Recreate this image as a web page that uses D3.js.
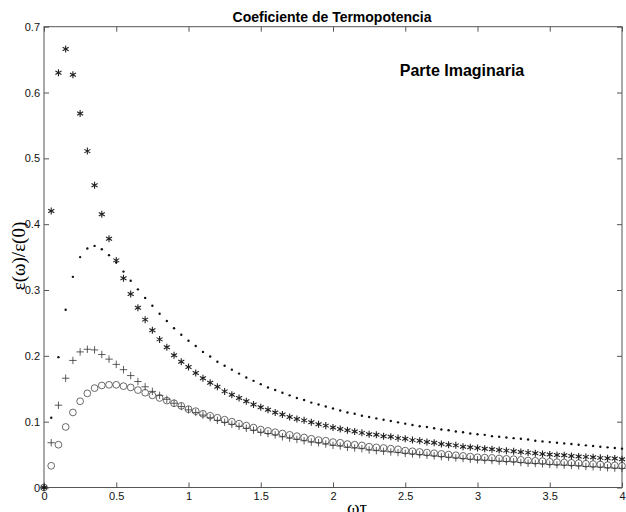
<!DOCTYPE html>
<html>
<head>
<meta charset="utf-8">
<script src="https://cdn.jsdelivr.net/npm/d3@7"></script>
<style>
  body { margin: 0; background: #fff; }
  svg { display: block; }
</style>
</head>
<body>
<svg width="626" height="512"></svg>
<script>
// omega*tau grid
var wt = [0, 0.05, 0.1, 0.15, 0.2, 0.25, 0.3, 0.35, 0.4, 0.45, 0.5, 0.55, 0.6, 0.65, 0.7, 0.75, 0.8, 0.85, 0.9, 0.95,
  1, 1.05, 1.1, 1.15, 1.2, 1.25, 1.3, 1.35, 1.4, 1.45, 1.5, 1.55, 1.6, 1.65, 1.7, 1.75, 1.8, 1.85, 1.9, 1.95,
  2, 2.05, 2.1, 2.15, 2.2, 2.25, 2.3, 2.35, 2.4, 2.45, 2.5, 2.55, 2.6, 2.65, 2.7, 2.75, 2.8, 2.85, 2.9, 2.95,
  3, 3.05, 3.1, 3.15, 3.2, 3.25, 3.3, 3.35, 3.4, 3.45, 3.5, 3.55, 3.6, 3.65, 3.7, 3.75, 3.8, 3.85, 3.9, 3.95, 4];

// serie "*"
var asteriscos = [0, 0.420, 0.630, 0.666, 0.627, 0.568, 0.511, 0.459, 0.415, 0.378, 0.345, 0.318, 0.294, 0.273, 0.255, 0.239, 0.225, 0.213, 0.201, 0.191,
  0.183, 0.174, 0.166, 0.159, 0.153, 0.146, 0.141, 0.136, 0.131, 0.126, 0.122, 0.118, 0.114, 0.111, 0.107, 0.104, 0.102, 0.099, 0.096, 0.094,
  0.091, 0.089, 0.087, 0.085, 0.083, 0.081, 0.080, 0.078, 0.077, 0.075, 0.074, 0.072, 0.071, 0.069, 0.068, 0.066, 0.065, 0.064, 0.062, 0.061,
  0.060, 0.059, 0.058, 0.057, 0.056, 0.055, 0.054, 0.053, 0.052, 0.051, 0.050, 0.0495, 0.049, 0.048, 0.047, 0.0465, 0.046, 0.045, 0.0445, 0.044, 0.043];

// serie "."
var puntos = [0, 0.106, 0.198, 0.270, 0.320, 0.350, 0.363, 0.367, 0.362, 0.353, 0.342, 0.328, 0.314, 0.301, 0.288, 0.276, 0.264, 0.253, 0.242, 0.232,
  0.223, 0.215, 0.206, 0.199, 0.191, 0.185, 0.179, 0.173, 0.167, 0.162, 0.157, 0.152, 0.148, 0.144, 0.140, 0.136, 0.133, 0.129, 0.126, 0.123,
  0.120, 0.117, 0.114, 0.112, 0.109, 0.107, 0.105, 0.103, 0.101, 0.099, 0.097, 0.095, 0.093, 0.092, 0.090, 0.088, 0.087, 0.085, 0.084, 0.082,
  0.081, 0.080, 0.078, 0.077, 0.076, 0.075, 0.074, 0.073, 0.071, 0.070, 0.069, 0.068, 0.067, 0.066, 0.065, 0.064, 0.063, 0.062, 0.061, 0.060, 0.059];

// serie "+"
var cruces = [0, 0.068, 0.125, 0.166, 0.193, 0.206, 0.210, 0.209, 0.202, 0.195, 0.187, 0.179, 0.170, 0.161, 0.153, 0.146, 0.140, 0.134, 0.128, 0.123,
  0.118, 0.114, 0.110, 0.106, 0.102, 0.099, 0.096, 0.093, 0.090, 0.087, 0.084, 0.082, 0.080, 0.077, 0.075, 0.073, 0.071, 0.069, 0.068, 0.066,
  0.064, 0.063, 0.061, 0.060, 0.059, 0.057, 0.056, 0.055, 0.054, 0.053, 0.052, 0.051, 0.050, 0.049, 0.048, 0.047, 0.046, 0.045, 0.044, 0.043,
  0.042, 0.0415, 0.041, 0.040, 0.0395, 0.039, 0.038, 0.037, 0.0365, 0.036, 0.035, 0.0345, 0.034, 0.0335, 0.033, 0.032, 0.0315, 0.031, 0.030, 0.0295, 0.029];

// serie "o"
var circulos = [0, 0.033, 0.065, 0.092, 0.114, 0.131, 0.143, 0.151, 0.155, 0.156, 0.156, 0.154, 0.152, 0.148, 0.144, 0.140, 0.136, 0.132, 0.128, 0.124,
  0.119, 0.116, 0.112, 0.109, 0.106, 0.103, 0.100, 0.097, 0.094, 0.091, 0.088, 0.086, 0.084, 0.082, 0.080, 0.078, 0.076, 0.074, 0.072, 0.071,
  0.069, 0.068, 0.066, 0.065, 0.064, 0.062, 0.061, 0.060, 0.059, 0.058, 0.056, 0.055, 0.054, 0.053, 0.052, 0.051, 0.050, 0.049, 0.048, 0.047,
  0.046, 0.0455, 0.045, 0.044, 0.0435, 0.043, 0.042, 0.041, 0.0405, 0.040, 0.039, 0.0385, 0.038, 0.0375, 0.037, 0.036, 0.0355, 0.035, 0.034, 0.0335, 0.033];

var xTicks = [0, 0.5, 1, 1.5, 2, 2.5, 3, 3.5, 4];
var yTicks = [0, 0.1, 0.2, 0.3, 0.4, 0.5, 0.6, 0.7];

var svg = d3.select("svg"),
    margenIzq = 44, margenDer = 622, margenSup = 26.7, margenInf = 487.5;

var x = d3.scaleLinear().domain([0, 4]).range([margenIzq, margenDer]);
var y = d3.scaleLinear().domain([0, 0.7]).range([margenInf, margenSup]);

var axisColor = "#555";

// marco
svg.append("rect")
  .attr("x", margenIzq).attr("y", margenSup)
  .attr("width", margenDer - margenIzq).attr("height", margenInf - margenSup)
  .attr("fill", "none").attr("stroke", axisColor).attr("stroke-width", 1);

function fmt(d) { return d3.format("~g")(d); }

var gx = svg.append("g").attr("transform", "translate(0," + margenInf + ")")
  .call(d3.axisBottom(x).tickValues(xTicks).tickSize(-5).tickPadding(5).tickFormat(fmt));
var gxTop = svg.append("g").attr("transform", "translate(0," + margenSup + ")")
  .call(d3.axisTop(x).tickValues(xTicks).tickSize(-5).tickFormat(""));
var gy = svg.append("g").attr("transform", "translate(" + margenIzq + ",0)")
  .call(d3.axisLeft(y).tickValues(yTicks).tickSize(-5).tickPadding(4).tickFormat(fmt));
var gyRight = svg.append("g").attr("transform", "translate(" + margenDer + ",0)")
  .call(d3.axisRight(y).tickValues(yTicks).tickSize(-5).tickFormat(""));

[gx, gxTop, gy, gyRight].forEach(function(g) {
  g.select(".domain").remove();
  g.selectAll(".tick line").attr("stroke", axisColor);
  g.selectAll(".tick text")
    .attr("fill", "#111")
    .style("font-family", "'Liberation Sans', Arial, sans-serif")
    .style("font-size", "11px");
});

// datos
function serie(valores) {
  return wt.map(function(d, i) { return { x: d, y: valores[i] }; });
}

svg.append("g").selectAll("path")
  .data(serie(circulos))
  .enter().append("path")
  .attr("d", d3.symbol(d3.symbolCircle, 36))
  .attr("transform", function(d) { return "translate(" + x(d.x) + "," + y(d.y) + ")"; })
  .attr("fill", "none").attr("stroke", "#444").attr("stroke-width", 0.8);

svg.append("g").selectAll("path")
  .data(serie(cruces))
  .enter().append("path")
  .attr("d", d3.symbol(d3.symbolPlus, 20))
  .attr("transform", function(d) { return "translate(" + x(d.x) + "," + y(d.y) + ")"; })
  .attr("fill", "none").attr("stroke", "#333").attr("stroke-width", 0.8);

svg.append("g").selectAll("path")
  .data(serie(asteriscos))
  .enter().append("path")
  .attr("d", d3.symbol(d3.symbolAsterisk, 34))
  .attr("transform", function(d) { return "translate(" + x(d.x) + "," + y(d.y) + ")"; })
  .attr("fill", "none").attr("stroke", "#222").attr("stroke-width", 1.1);

svg.append("g").selectAll("circle")
  .data(serie(puntos))
  .enter().append("circle")
  .attr("cx", function(d) { return x(d.x); })
  .attr("cy", function(d) { return y(d.y); })
  .attr("r", 1.2)
  .attr("fill", "#111");

// textos
svg.append("text")
  .attr("x", 332).attr("y", 22)
  .attr("text-anchor", "middle")
  .style("font-family", "'Liberation Sans', Arial, sans-serif")
  .style("font-size", "14px").style("font-weight", "bold")
  .text("Coeficiente de Termopotencia");

svg.append("text")
  .attr("x", 462).attr("y", 76)
  .attr("text-anchor", "middle")
  .style("font-family", "'Liberation Sans', Arial, sans-serif")
  .style("font-size", "16px").style("font-weight", "bold")
  .text("Parte Imaginaria");

svg.append("text")
  .attr("transform", "translate(25,256) rotate(-90)")
  .attr("text-anchor", "middle")
  .style("font-family", "'Liberation Serif', 'Times New Roman', serif")
  .style("font-size", "19px")
  .text("ε(ω)/ε(0)");

svg.append("text")
  .attr("x", 357).attr("y", 514)
  .attr("text-anchor", "middle")
  .style("font-family", "'Liberation Serif', 'Times New Roman', serif")
  .style("font-size", "19px")
  .text("ωτ");
</script>
</body>
</html>
